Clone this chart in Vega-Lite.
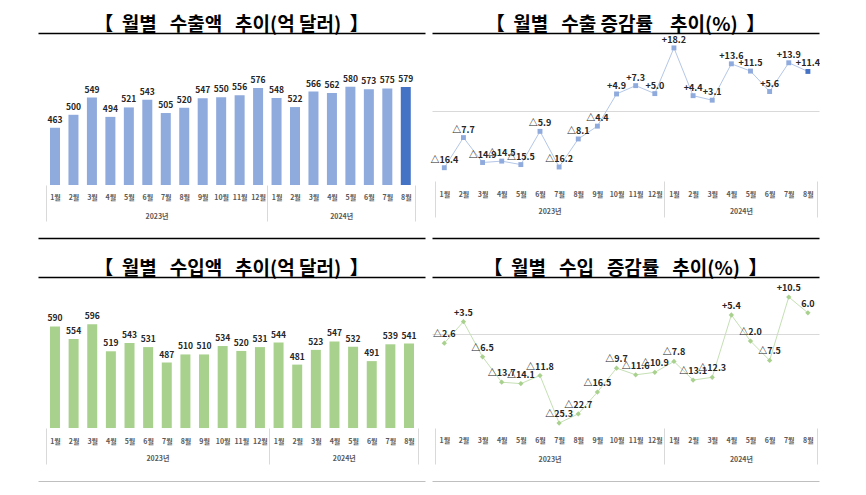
{
  "$schema": "https://vega.github.io/schema/vega-lite/v6.json",
  "background": "white",
  "padding": {"left": 38, "top": 16, "right": 0, "bottom": 0},
  "config": {
    "view": {"stroke": null},
    "font": "Noto Sans CJK KR",
    "title": {"fontSize": 19, "fontWeight": "bold", "color": "#000000", "offset": 2, "dy": 4, "anchor": "middle", "font": "Noto Sans CJK KR"}
  },
  "datasets": {
    "exp": [
      {"i": 1, "v": 463, "g": -16.4, "gl": "△16.4"},
      {"i": 2, "v": 500, "g": -7.7, "gl": "△7.7"},
      {"i": 3, "v": 549, "g": -14.9, "gl": "△14.9"},
      {"i": 4, "v": 494, "g": -14.5, "gl": "△14.5"},
      {"i": 5, "v": 521, "g": -15.5, "gl": "△15.5"},
      {"i": 6, "v": 543, "g": -5.9, "gl": "△5.9"},
      {"i": 7, "v": 505, "g": -16.2, "gl": "△16.2"},
      {"i": 8, "v": 520, "g": -8.1, "gl": "△8.1"},
      {"i": 9, "v": 547, "g": -4.4, "gl": "△4.4"},
      {"i": 10, "v": 550, "g": 4.9, "gl": "+4.9"},
      {"i": 11, "v": 556, "g": 7.3, "gl": "+7.3"},
      {"i": 12, "v": 576, "g": 5.0, "gl": "+5.0"},
      {"i": 13, "v": 548, "g": 18.2, "gl": "+18.2"},
      {"i": 14, "v": 522, "g": 4.4, "gl": "+4.4"},
      {"i": 15, "v": 566, "g": 3.1, "gl": "+3.1"},
      {"i": 16, "v": 562, "g": 13.6, "gl": "+13.6"},
      {"i": 17, "v": 580, "g": 11.5, "gl": "+11.5"},
      {"i": 18, "v": 573, "g": 5.6, "gl": "+5.6"},
      {"i": 19, "v": 575, "g": 13.9, "gl": "+13.9"},
      {"i": 20, "v": 579, "g": 11.4, "gl": "+11.4"}
    ],
    "imp": [
      {"i": 1, "v": 590, "g": -2.6, "gl": "△2.6"},
      {"i": 2, "v": 554, "g": 3.5, "gl": "+3.5"},
      {"i": 3, "v": 596, "g": -6.5, "gl": "△6.5"},
      {"i": 4, "v": 519, "g": -13.7, "gl": "△13.7"},
      {"i": 5, "v": 543, "g": -14.1, "gl": "△14.1"},
      {"i": 6, "v": 531, "g": -11.8, "gl": "△11.8"},
      {"i": 7, "v": 487, "g": -25.3, "gl": "△25.3"},
      {"i": 8, "v": 510, "g": -22.7, "gl": "△22.7"},
      {"i": 9, "v": 510, "g": -16.5, "gl": "△16.5"},
      {"i": 10, "v": 534, "g": -9.7, "gl": "△9.7"},
      {"i": 11, "v": 520, "g": -11.6, "gl": "△11.6"},
      {"i": 12, "v": 531, "g": -10.9, "gl": "△10.9"},
      {"i": 13, "v": 544, "g": -7.8, "gl": "△7.8"},
      {"i": 14, "v": 481, "g": -13.1, "gl": "△13.1"},
      {"i": 15, "v": 523, "g": -12.3, "gl": "△12.3"},
      {"i": 16, "v": 547, "g": 5.4, "gl": "+5.4"},
      {"i": 17, "v": 532, "g": -2.0, "gl": "△2.0"},
      {"i": 18, "v": 491, "g": -7.5, "gl": "△7.5"},
      {"i": 19, "v": 539, "g": 10.5, "gl": "+10.5"},
      {"i": 20, "v": 541, "g": 6.0, "gl": "6.0"}
    ]
  },
  "columns": 2,
  "spacing": {"row": 22, "column": 5},
  "concat": [
    {
      "width": 387, "height": 205,
      "title": {"text": "【\u00a0 월별\u00a0\u00a0 수출액\u00a0\u00a0 추이(억 달러)\u00a0 】"},
      "data": {"name": "exp"},
      "encoding": {
        "x": {"field": "i", "type": "quantitative",
          "scale": {"domain": [0.35, 20.77], "nice": false, "zero": false},
          "axis": {"title": null, "offset": -53, "domain": false, "grid": false,
            "values": [0.5, 1, 2, 3, 4, 5, 6, 6.5, 7, 8, 9, 10, 11, 12, 12.5, 13, 14, 15, 16, 16.5, 17, 18, 19, 20, 20.5],
            "ticks": true, "tickSize": 36, "tickColor": "#D9D9D9", "tickWidth": 1,
            "tickOpacity": {"condition": {"test": "datum.value == 0.5 || datum.value == 12.5 || datum.value == 20.5", "value": 1}, "value": 0},
            "labelExpr": "datum.value == 6.5 ? ['', '2023년'] : datum.value == 16.5 ? ['', '2024년'] : (datum.value % 1 != 0 ? '' : (datum.value <= 12 ? datum.value : datum.value - 12) + '월')",
            "labelPadding": -28, "labelFontSize": 7, "labelFontWeight": "bold", "labelColor": "#595959", "labelLineHeight": 19,
            "labelOverlap": false, "labelFlush": false, "labelBound": false, "labelBaseline": "top"}},
        "y": {"field": "v", "type": "quantitative",
          "scale": {"domain": [149, 733], "nice": false, "zero": false},
          "axis": {"title": null, "values": [149, 733], "labels": false, "ticks": false, "domain": false, "grid": true, "gridColor": "#000000", "gridWidth": 1.6}}
      },
      "layer": [
        {"mark": {"type": "bar", "width": 10},
         "encoding": {"y2": {"datum": 300},
           "color": {"condition": {"test": "datum.i == 20", "value": "#4472C4"}, "value": "#8FAADC"}}},
        {"mark": {"type": "text", "baseline": "bottom", "dy": -3, "fontSize": 8.5, "fontWeight": "bold", "color": "#262626"},
         "encoding": {"text": {"field": "v", "type": "quantitative"}}}
      ]
    },
    {
      "width": 387, "height": 205,
      "title": {"text": "【\u00a0 월별\u00a0\u00a0 수출 증감률\u00a0\u00a0\u00a0 추이(%)\u00a0 】"},
      "data": {"name": "exp"},
      "encoding": {
        "x": {"field": "i", "type": "quantitative",
          "scale": {"domain": [0.357, 20.58], "nice": false, "zero": false},
          "axis": {"title": null, "offset": -57, "domain": false, "grid": false,
            "values": [0.5, 1, 2, 3, 4, 5, 6, 6.5, 7, 8, 9, 10, 11, 12, 12.5, 13, 14, 15, 16, 16.5, 17, 18, 19, 20, 20.5],
            "ticks": true, "tickSize": 36, "tickColor": "#D9D9D9", "tickWidth": 1,
            "tickOpacity": {"condition": {"test": "datum.value == 0.5 || datum.value == 12.5 || datum.value == 20.5", "value": 1}, "value": 0},
            "labelExpr": "datum.value == 6.5 ? ['', '2023년'] : datum.value == 16.5 ? ['', '2024년'] : (datum.value % 1 != 0 ? '' : (datum.value <= 12 ? datum.value : datum.value - 12) + '월')",
            "labelPadding": -27, "labelFontSize": 7, "labelFontWeight": "bold", "labelColor": "#595959", "labelLineHeight": 17,
            "labelOverlap": false, "labelFlush": false, "labelBound": false, "labelBaseline": "top"}},
        "y": {"field": "g", "type": "quantitative",
          "scale": {"domain": [-36.7, 22.5], "nice": false, "zero": false},
          "axis": {"title": null, "values": [-36.7, 0, 22.5], "labels": false, "ticks": false, "domain": false, "grid": true,
            "gridColor": {"condition": {"test": "datum.value == 0", "value": "#D9D9D9"}, "value": "#000000"},
            "gridWidth": {"condition": {"test": "datum.value == 0", "value": 1}, "value": 1.6}}}
      },
      "layer": [
        {"mark": {"type": "line", "color": "#B4C7E7", "strokeWidth": 1}},
        {"mark": {"type": "point", "shape": "square", "filled": true, "size": 24, "opacity": 1},
         "encoding": {"color": {"condition": {"test": "datum.i == 20", "value": "#4472C4"}, "value": "#8FAADC"}}},
        {"mark": {"type": "text", "baseline": "middle", "dy": -8, "fontSize": 9, "fontWeight": "bold", "color": "#262626"},
         "encoding": {"text": {"field": "gl", "type": "nominal"}}}
      ]
    },
    {
      "width": 387, "height": 205,
      "title": {"text": "【\u00a0 월별\u00a0\u00a0 수입액\u00a0\u00a0 추이(억 달러)\u00a0 】"},
      "data": {"name": "imp"},
      "encoding": {
        "x": {"field": "i", "type": "quantitative",
          "scale": {"domain": [0.357, 20.59], "nice": false, "zero": false},
          "axis": {"title": null, "offset": -54, "domain": false, "grid": false,
            "values": [0.5, 1, 2, 3, 4, 5, 6, 6.5, 7, 8, 9, 10, 11, 12, 12.5, 13, 14, 15, 16, 16.5, 17, 18, 19, 20, 20.5],
            "ticks": true, "tickSize": 36, "tickColor": "#D9D9D9", "tickWidth": 1,
            "tickOpacity": {"condition": {"test": "datum.value == 0.5 || datum.value == 12.5 || datum.value == 20.5", "value": 1}, "value": 0},
            "labelExpr": "datum.value == 6.5 ? ['', '2023년'] : datum.value == 16.5 ? ['', '2024년'] : (datum.value % 1 != 0 ? '' : (datum.value <= 12 ? datum.value : datum.value - 12) + '월')",
            "labelPadding": -27, "labelFontSize": 7, "labelFontWeight": "bold", "labelColor": "#595959", "labelLineHeight": 17,
            "labelOverlap": false, "labelFlush": false, "labelBound": false, "labelBaseline": "top"}},
        "y": {"field": "v", "type": "quantitative",
          "scale": {"domain": [146, 731], "nice": false, "zero": false},
          "axis": {"title": null, "values": [146, 731], "labels": false, "ticks": false, "domain": false, "grid": true, "gridColor": "#000000", "gridWidth": 1.6}}
      },
      "layer": [
        {"mark": {"type": "bar", "width": 10, "color": "#A9D18E"},
         "encoding": {"y2": {"datum": 300}}},
        {"mark": {"type": "text", "baseline": "bottom", "dy": -3, "fontSize": 8.5, "fontWeight": "bold", "color": "#262626"},
         "encoding": {"text": {"field": "v", "type": "quantitative"}}}
      ]
    },
    {
      "width": 387, "height": 205,
      "title": {"text": "【\u00a0 월별\u00a0\u00a0 수입\u00a0\u00a0 증감률\u00a0\u00a0 추이(%)\u00a0 】"},
      "data": {"name": "imp"},
      "encoding": {
        "x": {"field": "i", "type": "quantitative",
          "scale": {"domain": [0.357, 20.58], "nice": false, "zero": false},
          "axis": {"title": null, "offset": -54, "domain": false, "grid": false,
            "values": [0.5, 1, 2, 3, 4, 5, 6, 6.5, 7, 8, 9, 10, 11, 12, 12.5, 13, 14, 15, 16, 16.5, 17, 18, 19, 20, 20.5],
            "ticks": true, "tickSize": 36, "tickColor": "#D9D9D9", "tickWidth": 1,
            "tickOpacity": {"condition": {"test": "datum.value == 0.5 || datum.value == 12.5 || datum.value == 20.5", "value": 1}, "value": 0},
            "labelExpr": "datum.value == 6.5 ? ['', '2023년'] : datum.value == 16.5 ? ['', '2024년'] : (datum.value % 1 != 0 ? '' : (datum.value <= 12 ? datum.value : datum.value - 12) + '월')",
            "labelPadding": -28, "labelFontSize": 7, "labelFontWeight": "bold", "labelColor": "#595959", "labelLineHeight": 19,
            "labelOverlap": false, "labelFlush": false, "labelBound": false, "labelBaseline": "top"}},
        "y": {"field": "g", "type": "quantitative",
          "scale": {"domain": [-42.05, 16.19], "nice": false, "zero": false},
          "axis": {"title": null, "values": [-42.05, 0, 16.19], "labels": false, "ticks": false, "domain": false, "grid": true,
            "gridColor": {"condition": {"test": "datum.value == 0", "value": "#D9D9D9"}, "value": "#000000"},
            "gridWidth": {"condition": {"test": "datum.value == 0", "value": 1}, "value": 1.6}}}
      },
      "layer": [
        {"mark": {"type": "line", "color": "#C5E0B4", "strokeWidth": 1}},
        {"mark": {"type": "point", "shape": "diamond", "filled": true, "size": 28, "opacity": 1, "color": "#A9D18E"}},
        {"mark": {"type": "text", "baseline": "middle", "dy": -9, "fontSize": 9, "fontWeight": "bold", "color": "#262626"},
         "encoding": {"text": {"field": "gl", "type": "nominal"}}}
      ]
    }
  ]
}
